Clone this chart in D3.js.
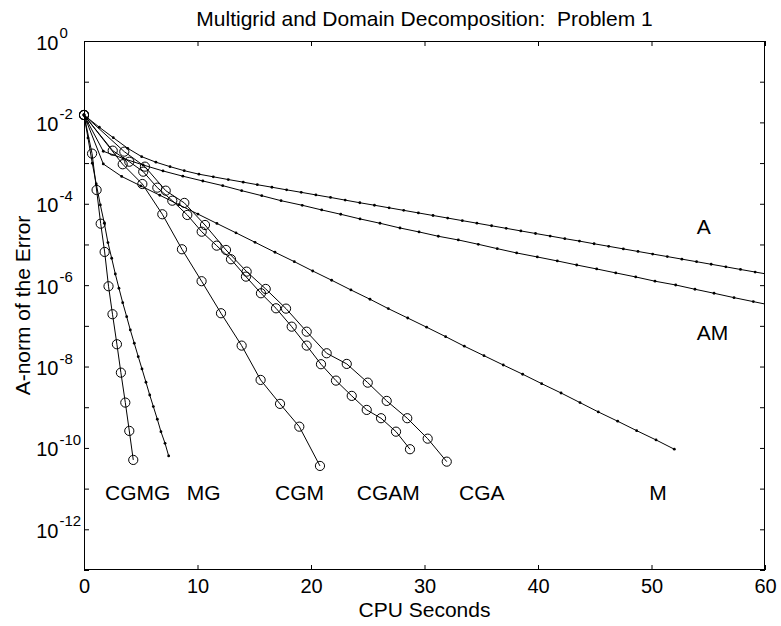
<!DOCTYPE html>
<html>
<head>
<meta charset="utf-8">
<script src="https://cdn.jsdelivr.net/npm/d3@7"></script>
<style>
  html, body { margin: 0; padding: 0; background: #fff; }
  svg text { font-family: "Liberation Sans", Arial, Helvetica, sans-serif; fill: #000; white-space: pre; }
</style>
</head>
<body>
<svg id="chart" width="781" height="626"></svg>
<script>
// ---------------- data ----------------
const title = "Multigrid and Domain Decomposition:  Problem 1";
const xLabel = "CPU Seconds";
const yLabel = "A-norm of the Error";

const xTickValues = [0, 10, 20, 30, 40, 50, 60];
const yTickExponents = [0, -1, -2, -3, -4, -5, -6, -7, -8, -9, -10, -11, -12, -13];
const yLabelExponents = [0, -2, -4, -6, -8, -10, -12];

// A (dots)
const A_t = [0, 1.35, 2.58, 3.85, 5.08, 6.34, 7.58, 8.83, 10.13, 11.39, 12.71, 14.03,
  15.27, 16.56, 17.85, 19.14, 20.43, 21.72, 23.01, 24.30, 25.59, 26.88, 28.17, 29.46,
  30.75, 32.04, 33.33, 34.62, 35.91, 37.20, 38.49, 39.78, 41.07, 42.36, 43.65, 44.94,
  46.23, 47.52, 48.81, 50.10, 51.39, 52.68, 53.97, 55.26, 56.55, 57.84, 59.13, 60.42];
const A_err = [1.52e-2, 7.59e-3, 4.21e-3, 2.31e-3, 1.44e-3, 1.05e-3, 8.17e-4, 6.50e-4, 5.33e-4, 4.60e-4, 3.94e-4, 3.40e-4,
  2.94e-4, 2.55e-4, 2.20e-4, 1.91e-4, 1.65e-4, 1.43e-4, 1.23e-4, 1.06e-4, 9.20e-5, 7.96e-5, 6.89e-5, 5.96e-5,
  5.15e-5, 4.46e-5, 3.85e-5, 3.33e-5, 2.88e-5, 2.49e-5, 2.15e-5, 1.86e-5, 1.61e-5, 1.39e-5, 1.21e-5, 1.04e-5,
  9.00e-6, 7.78e-6, 6.73e-6, 5.82e-6, 5.04e-6, 4.36e-6, 3.77e-6, 3.26e-6, 2.82e-6, 2.43e-6, 2.10e-6, 1.82e-6];

// AM (dots)
const AM_t = [0, 1.70, 3.45, 5.21, 6.96, 8.71, 10.47, 12.22, 13.89, 15.66, 17.36, 19.23, 20.94, 22.62,
  24.32, 26.08, 27.84, 29.52, 31.22, 32.98, 34.74, 36.41, 38.12, 39.94, 41.70, 43.41, 45.17, 46.85,
  48.61, 50.31, 52.13, 53.83, 55.51, 57.27, 58.97, 60.70];
const AM_err = [1.52e-2, 1.95e-3, 1.30e-3, 8.97e-4, 6.40e-4, 4.76e-4, 3.63e-4, 2.79e-4, 2.10e-4, 1.58e-4, 1.19e-4, 9.18e-5, 7.05e-5, 5.52e-5,
  4.24e-5, 3.32e-5, 2.54e-5, 2.03e-5, 1.59e-5, 1.29e-5, 1.01e-5, 7.89e-6, 6.18e-6, 4.93e-6, 3.94e-6, 3.13e-6, 2.50e-6, 2.00e-6,
  1.59e-6, 1.25e-6, 1.01e-6, 7.93e-7, 6.32e-7, 4.93e-7, 3.94e-7, 3.13e-7];

// M (dots)
const M_t = [0, 1.70, 3.32, 5.00, 6.68, 8.35, 10.04, 11.71, 13.39, 15.07, 16.83, 18.53, 20.15, 21.82,
  23.52, 25.20, 26.81, 28.52, 30.19, 31.86, 33.51, 35.24, 36.94, 38.65, 40.32, 42.03, 43.70, 45.31,
  47.02, 48.69, 50.40, 52.01];
const M_err = [1.52e-2, 9.51e-4, 4.69e-4, 2.75e-4, 1.62e-4, 9.51e-5, 5.58e-5, 3.28e-5, 1.93e-5, 1.13e-5, 6.43e-6, 3.78e-6, 2.23e-6, 1.32e-6,
  7.62e-7, 4.50e-7, 2.65e-7, 1.56e-7, 9.25e-8, 5.43e-8, 3.16e-8, 1.85e-8, 1.09e-8, 6.47e-9, 3.80e-9, 2.24e-9, 1.30e-9, 7.67e-10,
  4.53e-10, 2.66e-10, 1.57e-10, 9.29e-11];

// MG (dots)
const MG_t = [0, 0.35, 0.73, 1.08, 1.44, 1.79, 2.11, 2.44, 2.76, 3.08, 3.41, 3.76, 4.08, 4.43, 4.78,
  5.11, 5.46, 5.79, 6.11, 6.46, 6.78, 7.14, 7.46];
const MG_err = [1.52e-2, 4.14e-3, 9.89e-4, 3.06e-4, 9.35e-5, 3.32e-5, 1.11e-5, 4.58e-6, 1.88e-6, 8.39e-7, 3.72e-7, 1.68e-7, 7.93e-8, 3.73e-8, 1.75e-8,
  8.73e-9, 4.11e-9, 2.00e-9, 1.04e-9, 5.07e-10, 2.51e-10, 1.30e-10, 6.35e-11];

// CGMG (circles)
const CGMG_t = [0, 0.71, 1.11, 1.47, 1.82, 2.16, 2.51, 2.90, 3.25, 3.64, 3.99, 4.34];
const CGMG_err = [1.52e-2, 1.71e-3, 2.18e-4, 3.24e-5, 6.55e-6, 9.40e-7, 1.93e-7, 3.53e-8, 7.08e-9, 1.30e-9, 2.62e-10, 5.07e-11];

// CGM (circles)
const CGM_t = [0, 3.41, 5.14, 6.90, 8.63, 10.36, 12.07, 13.89, 15.56, 17.27, 18.97, 20.79];
const CGM_err = [1.52e-2, 9.35e-4, 3.06e-4, 5.52e-5, 7.62e-6, 1.25e-6, 2.04e-7, 3.27e-8, 4.69e-9, 1.21e-9, 3.33e-10, 3.61e-11];

// CGAM (circles)
const CGAM_t = [0, 2.53, 3.99, 5.22, 6.46, 7.78, 9.10, 10.37, 11.69, 12.95, 14.27, 15.59, 16.92, 18.30,
  19.62, 20.88, 22.20, 23.59, 24.91, 26.17, 27.49, 28.72];
const CGAM_err = [1.52e-2, 2.02e-3, 1.08e-3, 6.15e-4, 2.49e-4, 1.19e-4, 5.31e-5, 2.06e-5, 9.35e-6, 4.33e-6, 1.62e-6, 6.32e-7, 2.70e-7, 9.55e-8,
  3.27e-8, 1.14e-8, 4.51e-9, 1.90e-9, 8.59e-10, 5.37e-10, 2.51e-10, 9.29e-11];

// CGA (circles)
const CGA_t = [0, 3.55, 5.37, 7.20, 8.84, 10.66, 12.51, 14.33, 16.01, 17.80, 19.62, 21.38, 23.15, 25.00,
  26.67, 28.48, 30.28, 31.96];
const CGA_err = [1.52e-2, 1.91e-3, 8.17e-4, 2.10e-4, 1.05e-4, 3.01e-5, 7.33e-6, 2.15e-6, 8.07e-7, 2.65e-7, 7.19e-8, 2.12e-8, 1.16e-8, 4.02e-9,
  1.43e-9, 5.37e-10, 1.69e-10, 4.60e-11];

// curve labels (data coordinates of the text's left baseline)
const labelTexts = ["CGMG", "MG", "CGM", "CGAM", "CGA", "M", "A", "AM"];
const labelT = [1.85, 9.05, 16.83, 24.03, 33.04, 49.81, 53.98, 53.98];
const labelErr = [5.4e-12, 5.4e-12, 5.4e-12, 5.4e-12, 5.4e-12, 5.4e-12, 1.81e-5, 4.5e-8];

// ---------------- drawing ----------------
(function () {
const pL = 84, pR = 765, pT = 41, pB = 570;
const svg = d3.select("#chart");

const x = d3.scaleLinear().domain([0, 60]).range([pL, pR]);
const y = d3.scaleLog().domain([1e-13, 1]).range([pB, pT]);

svg.append("defs").append("clipPath").attr("id", "plotclip")
  .append("rect").attr("x", pL - 4).attr("y", pT).attr("width", pR - pL + 4).attr("height", pB - pT);

const series = [
  { t: A_t, e: A_err, marker: "dot" },
  { t: AM_t, e: AM_err, marker: "dot" },
  { t: M_t, e: M_err, marker: "dot" },
  { t: MG_t, e: MG_err, marker: "dot" },
  { t: CGMG_t, e: CGMG_err, marker: "circle" },
  { t: CGM_t, e: CGM_err, marker: "circle" },
  { t: CGAM_t, e: CGAM_err, marker: "circle" },
  { t: CGA_t, e: CGA_err, marker: "circle" }
];

const line = d3.line().x(d => x(d[0])).y(d => y(d[1]));
const plot = svg.append("g");

series.forEach(s => {
  const pts = s.t.map((t, i) => [t, s.e[i]]);
  plot.append("path").datum(pts)
    .attr("d", line).attr("fill", "none").attr("stroke", "#000").attr("stroke-width", 1)
    .attr("clip-path", "url(#plotclip)");
  if (s.marker === "dot") {
    plot.append("g").attr("clip-path", "url(#plotclip)")
      .selectAll("circle").data(pts).enter().append("circle")
      .attr("cx", d => x(d[0])).attr("cy", d => y(d[1])).attr("r", 1.4).attr("fill", "#000");
  } else {
    plot.append("g").selectAll("circle").data(pts).enter().append("circle")
      .attr("cx", d => x(d[0])).attr("cy", d => y(d[1])).attr("r", 4.6)
      .attr("fill", "none").attr("stroke", "#000").attr("stroke-width", 1);
  }
});

// axes (ticks inward on all four sides)
const yTicks = yTickExponents.map(e => Math.pow(10, e));
const axisStyle = g => {
  g.select(".domain").remove();
  g.selectAll(".tick line").attr("stroke", "#000").attr("stroke-width", 1);
};

svg.append("g").attr("transform", `translate(0,${pB})`)
  .call(d3.axisBottom(x).tickValues(xTickValues).tickSize(-5).tickSizeOuter(0).tickPadding(9))
  .call(axisStyle)
  .call(g => g.selectAll(".tick text").attr("font-size", 20).attr("fill", "#000")
    .attr("font-family", "Liberation Sans, Arial, sans-serif"));

svg.append("g").attr("transform", `translate(0,${pT})`)
  .call(d3.axisTop(x).tickValues(xTickValues).tickSize(-5).tickSizeOuter(0).tickFormat(""))
  .call(axisStyle);

svg.append("g").attr("transform", `translate(${pL},0)`)
  .call(d3.axisLeft(y).tickValues(yTicks).tickSize(-5).tickSizeOuter(0).tickFormat(""))
  .call(axisStyle);

svg.append("g").attr("transform", `translate(${pR},0)`)
  .call(d3.axisRight(y).tickValues(yTicks).tickSize(-5).tickSizeOuter(0).tickFormat(""))
  .call(axisStyle);

// frame
svg.append("rect").attr("x", pL + 0.5).attr("y", pT + 0.5)
  .attr("width", pR - pL - 1).attr("height", pB - pT - 1)
  .attr("fill", "none").attr("stroke", "#000").attr("stroke-width", 1);

// y tick labels 10^e
const yl = svg.append("g");
yLabelExponents.forEach(e => {
  const yy = y(Math.pow(10, e));
  yl.append("text").attr("x", 58.5).attr("y", yy + 8.5).attr("text-anchor", "end")
    .attr("font-size", 20).text("10");
  yl.append("text").attr("x", 59.5).attr("y", yy - 3).attr("font-size", 15).text(String(e));
});

// titles
svg.append("text").attr("x", (pL + pR) / 2).attr("y", 26).attr("text-anchor", "middle")
  .attr("xml:space", "preserve").attr("font-size", 21).text(title);
svg.append("text").attr("x", (pL + pR) / 2).attr("y", 617).attr("text-anchor", "middle")
  .attr("font-size", 21).text(xLabel);
svg.append("text").attr("transform", `translate(30,${(pT + pB) / 2}) rotate(-90)`)
  .attr("text-anchor", "middle").attr("font-size", 21).text(yLabel);

// curve labels
svg.append("g").selectAll("text").data(labelTexts).enter().append("text")
  .attr("x", (d, i) => x(labelT[i])).attr("y", (d, i) => y(labelErr[i]))
  .attr("font-size", 21).text(d => d);
})();
</script>
</body>
</html>
